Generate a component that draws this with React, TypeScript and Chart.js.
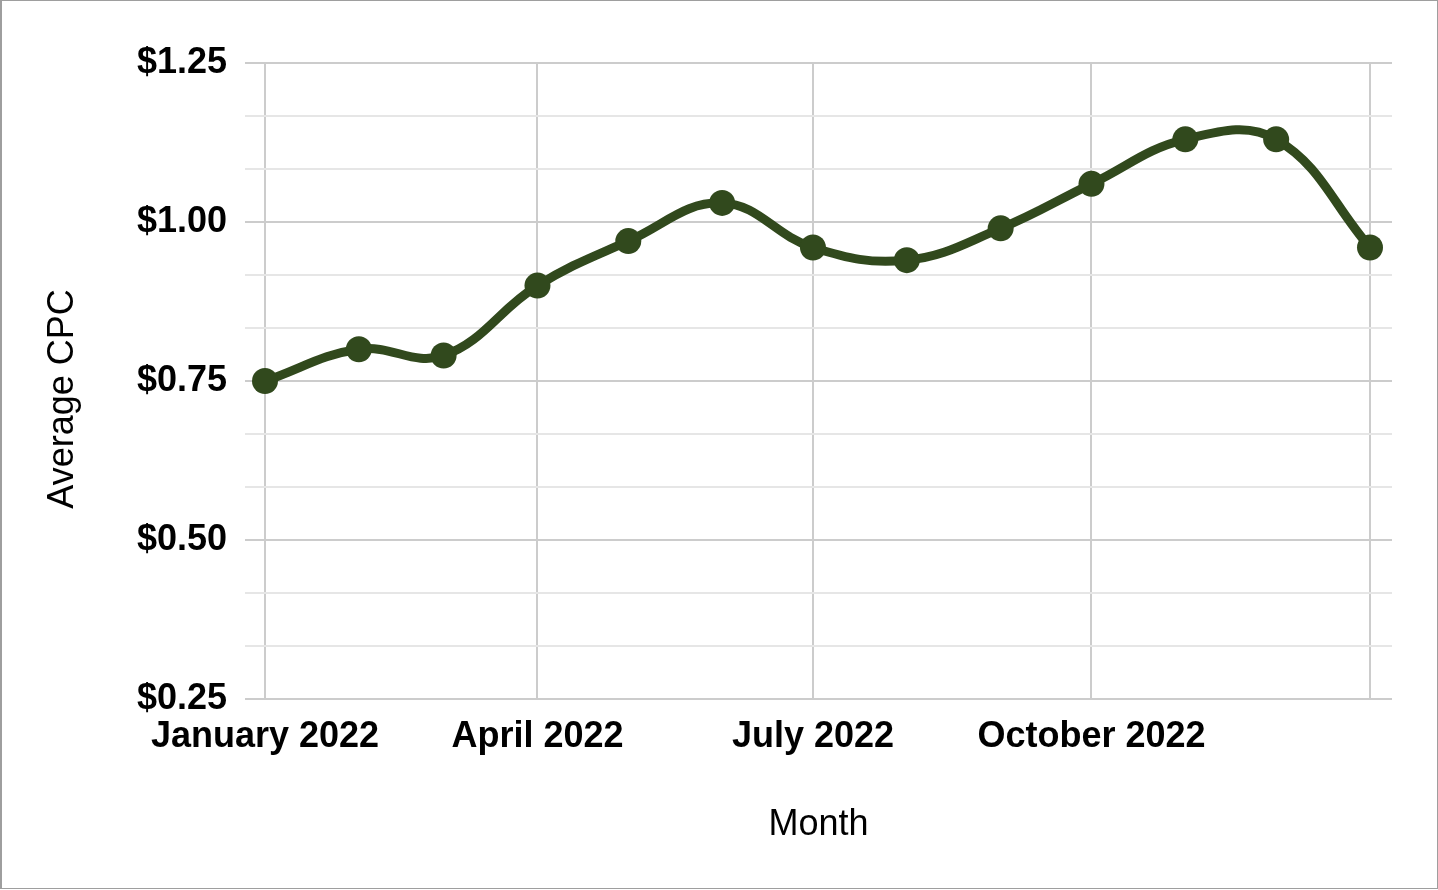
import React, { useEffect, useRef } from "react";
import { Chart, registerables } from "chart.js";

Chart.register(...registerables);

// Data
const months: string[] = [
  "2022-01-01", "2022-02-01", "2022-03-01", "2022-04-01", "2022-05-01", "2022-06-01",
  "2022-07-01", "2022-08-01", "2022-09-01", "2022-10-01", "2022-11-01", "2022-12-01",
  "2023-01-01",
];
const avgCpc: number[] = [0.75, 0.8, 0.79, 0.9, 0.97, 1.03, 0.96, 0.94, 0.99, 1.06, 1.13, 1.13, 0.96];

const xTickDates: string[] = ["2022-01-01", "2022-04-01", "2022-07-01", "2022-10-01", "2023-01-01"];
const xTickLabels: string[] = ["January 2022", "April 2022", "July 2022", "October 2022", ""];
const yMajorTicks: number[] = [0.25, 0.5, 0.75, 1.0, 1.25];
const yMinorPerMajor = 3;

const xTitle = "Month";
const yTitle = "Average CPC";

const FONT = '"Liberation Sans", Arial, Helvetica, sans-serif';
const LINE_COLOR = "#31491d";

const dayOf = (d: string) => {
  const [y, m, dd] = d.split("-").map(Number);
  return (Date.UTC(y, m - 1, dd) - Date.UTC(2022, 0, 1)) / 86400000;
};

export default function App() {
  const ref = useRef<HTMLCanvasElement | null>(null);

  useEffect(() => {
    document.body.style.margin = "0";
    const canvas = ref.current;
    if (!canvas) return;

    const points = months.map((m, i) => ({ x: dayOf(m), y: avgCpc[i] }));
    const xTicks = xTickDates.map((d) => dayOf(d));

    const yTicks: { value: number; major: boolean }[] = [];
    for (let i = 0; i < yMajorTicks.length; i++) {
      yTicks.push({ value: yMajorTicks[i], major: true });
      if (i < yMajorTicks.length - 1) {
        const step = (yMajorTicks[i + 1] - yMajorTicks[i]) / yMinorPerMajor;
        for (let k = 1; k < yMinorPerMajor; k++) {
          yTicks.push({ value: yMajorTicks[i] + step * k, major: false });
        }
      }
    }

    const yTitlePlugin = {
      id: "yTitlePlugin",
      afterDraw(chart: any) {
        const ctx = chart.ctx;
        ctx.save();
        ctx.translate(61.5, 398);
        ctx.rotate(-Math.PI / 2);
        ctx.font = `36px ${FONT}`;
        ctx.fillStyle = "#000";
        ctx.textAlign = "center";
        ctx.textBaseline = "middle";
        ctx.fillText(yTitle, 0, 0);
        ctx.restore();
      },
    };

    const chart = new Chart(canvas, {
      type: "line",
      data: {
        datasets: [
          {
            data: points,
            borderColor: LINE_COLOR,
            backgroundColor: LINE_COLOR,
            borderWidth: 9,
            pointRadius: 13,
            pointHoverRadius: 13,
            pointBorderWidth: 0,
            pointBackgroundColor: LINE_COLOR,
            tension: 0.4,
            fill: false,
          },
        ],
      },
      options: {
        animation: false,
        responsive: false,
        maintainAspectRatio: false,
        layout: { padding: { top: 62, right: 45, left: 0, bottom: 0 } },
        plugins: {
          legend: { display: false },
          tooltip: { enabled: false },
        },
        scales: {
          x: {
            type: "linear",
            min: -6.606,
            max: 372.267,
            afterBuildTicks: (scale: any) => {
              scale.ticks = xTicks.map((v) => ({ value: v }));
            },
            afterFit: (scale: any) => {
              scale.height = 189;
            },
            border: { display: false },
            grid: { color: "#cccccc", lineWidth: 2, drawTicks: false },
            ticks: {
              autoSkip: false,
              maxRotation: 0,
              padding: 16,
              color: "#000",
              font: { family: FONT, size: 36, weight: "bold", lineHeight: 1.2 },
              callback: (_v: any, i: number) => xTickLabels[i] ?? "",
            },
            title: {
              display: true,
              text: xTitle,
              color: "#000",
              font: { family: FONT, size: 36, weight: "normal", lineHeight: 1.2 },
              padding: { top: 0, bottom: 41 },
            },
          },
          y: {
            type: "linear",
            min: 0.25,
            max: 1.25,
            afterBuildTicks: (scale: any) => {
              scale.ticks = yTicks.map((t) => ({ value: t.value, major: t.major }));
            },
            afterFit: (scale: any) => {
              scale.width = 243;
            },
            border: { display: false },
            grid: {
              lineWidth: 2,
              drawTicks: false,
              color: (ctx: any) => (ctx.tick && ctx.tick.major ? "#cccccc" : "#e6e6e6"),
            },
            ticks: {
              autoSkip: false,
              padding: 18,
              color: "#000",
              font: { family: FONT, size: 36, weight: "bold", lineHeight: 1.2 },
              callback: (v: any, i: number) =>
                yTicks[i] && yTicks[i].major ? "$" + Number(v).toFixed(2) : "",
            },
          },
        },
      },
      plugins: [yTitlePlugin],
    } as any);

    return () => chart.destroy();
  }, []);

  return (
    <div
      style={{
        width: 1438,
        height: 889,
        boxSizing: "border-box",
        borderTop: "1px solid #9e9e9e",
        borderBottom: "1px solid #9e9e9e",
        borderRight: "1px solid #9e9e9e",
        borderLeft: "2px solid #9e9e9e",
        background: "#fff",
        overflow: "hidden",
      }}
    >
      <canvas ref={ref} width={1435} height={887} style={{ display: "block", width: 1435, height: 887 }} />
    </div>
  );
}
